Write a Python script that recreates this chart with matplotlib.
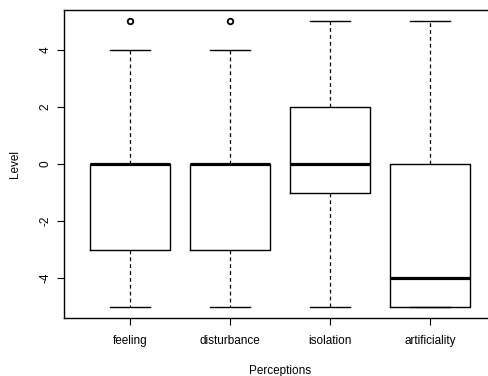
import matplotlib
matplotlib.use("Agg")
import matplotlib.pyplot as plt

plt.rcParams['font.family'] = ['Liberation Sans', 'DejaVu Sans']
plt.rcParams['axes.unicode_minus'] = False

# box statistics
categories = ["feeling", "disturbance", "isolation", "artificiality"]
whisker_low = [-5, -5, -5, -5]
q1 = [-3, -3, -1, -5]
medians = [0, 0, 0, -4]
q3 = [0, 0, 2, 0]
whisker_high = [4, 4, 5, 5]
outliers = [[5], [5], [], []]

stats = []
for i, name in enumerate(categories):
    stats.append(dict(label=name, whislo=whisker_low[i], q1=q1[i], med=medians[i],
                      q3=q3[i], whishi=whisker_high[i], fliers=outliers[i]))

fig = plt.figure(figsize=(4.89, 3.76), dpi=100)
# plot region runs past the right edge of the picture, like the cropped original
ax = fig.add_axes([64 / 489, 58 / 376, 432 / 489, 308 / 376])

ax.bxp(stats, positions=range(1, len(categories) + 1), widths=0.8,
       boxprops=dict(color='black', linewidth=1.0),
       medianprops=dict(color='black', linewidth=2.3, solid_capstyle='butt'),
       whiskerprops=dict(color='black', linewidth=0.9, linestyle=(0, (3, 2.5))),
       capprops=dict(color='black', linewidth=1.0),
       capwidths=0.4,
       flierprops=dict(marker='o', markersize=4, markerfacecolor='white',
                       markeredgecolor='black', markeredgewidth=1.3))

ax.set_xlim(0.34, 4.66)
ax.set_ylim(-5.4, 5.4)
ax.set_yticks([-4, -2, 0, 2, 4])
ax.set_yticklabels(["-4", "-2", "0", "2", "4"], rotation=90, va='center')
ax.set_xticks(range(1, len(categories) + 1))
ax.set_xticklabels(categories)

ax.tick_params(axis='both', direction='out', length=5, width=0.8, labelsize=8.5)
ax.tick_params(axis='x', pad=7.5)
ax.tick_params(axis='y', pad=4)
for s in ax.spines.values():
    s.set_linewidth(1.0)

ax.set_xlabel("Perceptions", fontsize=8.5, labelpad=13)
ax.set_ylabel("Level", fontsize=8.5, labelpad=13)

fig.savefig("out.png", dpi=100)
